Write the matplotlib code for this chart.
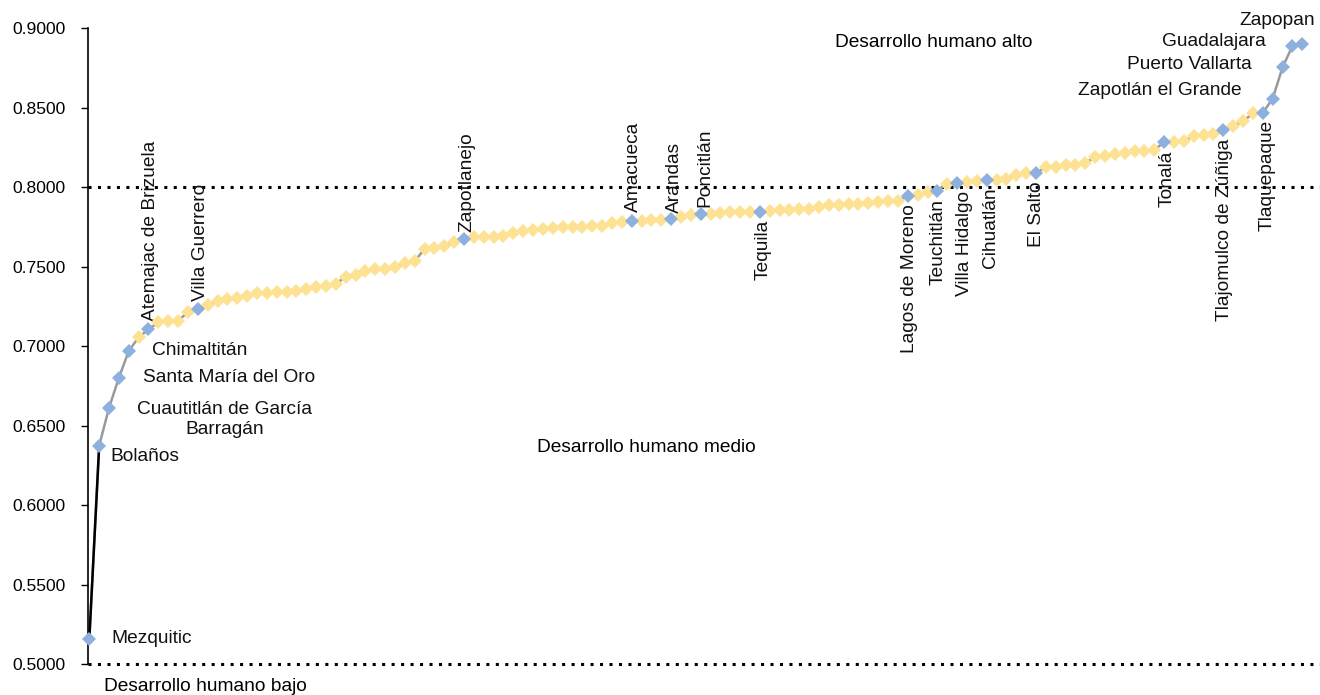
import matplotlib
matplotlib.use("Agg")
import matplotlib.pyplot as plt
import numpy as np

plt.rcParams['font.family'] = ['Liberation Sans', 'DejaVu Sans']

# IDH municipal de Jalisco, ordenado de menor a mayor (124 municipios)
idh = [
    0.5159, 0.6374, 0.6613, 0.6802, 0.6970, 0.7056, 0.7106, 0.7150, 0.7160, 0.7161,
    0.7213, 0.7232, 0.7259, 0.7284, 0.7295, 0.7305, 0.7318, 0.7333, 0.7337, 0.7341,
    0.7342, 0.7346, 0.7358, 0.7371, 0.7379, 0.7393, 0.7437, 0.7448, 0.7475, 0.7484,
    0.7488, 0.7497, 0.7522, 0.7536, 0.7612, 0.7620, 0.7631, 0.7654, 0.7673, 0.7685,
    0.7689, 0.7690, 0.7695, 0.7711, 0.7723, 0.7731, 0.7738, 0.7742, 0.7748, 0.7749,
    0.7752, 0.7755, 0.7756, 0.7777, 0.7784, 0.7790, 0.7791, 0.7792, 0.7794, 0.7802,
    0.7811, 0.7824, 0.7830, 0.7834, 0.7838, 0.7843, 0.7845, 0.7846, 0.7847, 0.7853,
    0.7857, 0.7858, 0.7865, 0.7866, 0.7874, 0.7890, 0.7891, 0.7892, 0.7895, 0.7903,
    0.7909, 0.7916, 0.7917, 0.7945, 0.7953, 0.7970, 0.7979, 0.8021, 0.8030, 0.8035,
    0.8042, 0.8046, 0.8047, 0.8050, 0.8077, 0.8088, 0.8092, 0.8126, 0.8130, 0.8138,
    0.8139, 0.8151, 0.8193, 0.8197, 0.8210, 0.8214, 0.8227, 0.8230, 0.8235, 0.8285,
    0.8286, 0.8291, 0.8323, 0.8327, 0.8335, 0.8361, 0.8386, 0.8415, 0.8466, 0.8469,
    0.8558, 0.8755, 0.8889, 0.8902,
]

# municipios destacados: posicion en el orden -> nombre
destacados = {
    0: "Mezquitic", 1: "Bolaños", 2: "Cuautitlán de García\nBarragán",
    3: "Santa María del Oro", 4: "Chimaltitán", 6: "Atemajac de Brizuela",
    11: "Villa Guerrero", 38: "Zapotlanejo", 55: "Amacueca", 59: "Arandas",
    62: "Poncitlán", 68: "Tequila", 83: "Lagos de Moreno", 86: "Teuchitlán",
    88: "Villa Hidalgo", 91: "Cihuatlán", 96: "El Salto", 109: "Tonalá",
    115: "Tlajomulco de Zúñiga", 119: "Tlaquepaque", 120: "Zapotlán el Grande",
    121: "Puerto Vallarta", 122: "Guadalajara", 123: "Zapopan",
}

umbrales = [0.5, 0.8]
niveles = ["Desarrollo humano bajo", "Desarrollo humano medio", "Desarrollo humano alto"]

x = np.arange(len(idh))
y = np.array(idh)

fig = plt.figure(figsize=(13.2, 6.95), dpi=100)
ax = fig.add_axes([0.0667, 0.0446, 0.9333, 0.9145])

gris = "#9a9a9a"
azul = "#8eb0de"
amarillo = "#fde293"

ax.plot(x, y, color=gris, lw=1.8, zorder=2, clip_on=False)
ax.plot(x[:2], y[:2], color="black", lw=1.8, zorder=3, clip_on=False)

mask = np.array([i in destacados for i in x])
ax.plot(x[~mask], y[~mask], ls="none", marker="D", ms=6.9, mfc=amarillo, mec=amarillo,
        mew=0, zorder=4, clip_on=False)
ax.plot(x[mask], y[mask], ls="none", marker="D", ms=7.4, mfc=azul, mec=azul,
        mew=0, zorder=5, clip_on=False)

for u in umbrales:
    ax.axhline(u, color="black", lw=2.2, ls=(0, (1, 2.1)), zorder=1, clip_on=False)

# posicion de cada etiqueta (offset en puntos, alineacion, rotacion)
estilo = {
    0: (16, 0, "left", "center", 0),
    1: (8, -8, "left", "center", 0),
    2: (83, -8.5, "center", "center", 0),
    3: (17, 0, "left", "center", 0),
    4: (17, 0, "left", "center", 0),
    6: (1.5, 6, "center", "bottom", 90),
    11: (2, 6, "center", "bottom", 90),
    38: (2, 5, "center", "bottom", 90),
    55: (1.5, 6, "center", "bottom", 90),
    59: (2.5, 4, "center", "bottom", 90),
    62: (3, 5, "center", "bottom", 90),
    68: (2, -6, "center", "top", 90),
    83: (1.5, -6, "center", "top", 90),
    86: (0.5, -6, "center", "top", 90),
    88: (5, -6, "center", "top", 90),
    91: (2.5, -5, "center", "top", 90),
    96: (0.5, -6, "center", "top", 90),
    109: (2, -6, "center", "top", 90),
    115: (1, -6, "center", "top", 90),
    119: (3, -5, "center", "top", 90),
    120: (-22, 6, "right", "center", 0),
    121: (-22, 2, "right", "center", 0),
    122: (-19, 3, "right", "center", 0),
    123: (9, 17, "right", "center", 0),
}

for i, nombre in destacados.items():
    dx, dy, ha, va, rot = estilo[i]
    ax.annotate(nombre, xy=(x[i], y[i]), xytext=(dx, dy), textcoords="offset points",
                ha=ha, va=va, rotation=rot, fontsize=13.8, color="#111111",
                multialignment="center", linespacing=1.2, annotation_clip=False)

# niveles de desarrollo
ax.text(0.0955, -0.036, niveles[0], transform=ax.transAxes, ha="center", va="center", fontsize=13.8)
ax.text(0.4535, 0.3412, niveles[1], transform=ax.transAxes, ha="center", va="center", fontsize=13.8)
ax.text(0.6865, 0.9785, niveles[2], transform=ax.transAxes, ha="center", va="center", fontsize=13.8)

ax.set_xlim(-0.13, 124.8)
ax.set_ylim(0.5, 0.9)
ax.set_yticks(np.arange(0.5, 0.9001, 0.05))
ax.set_yticklabels([f"{t:.4f}" for t in np.arange(0.5, 0.9001, 0.05)])
ax.tick_params(axis="y", length=5, width=1, pad=11, labelsize=12.6, colors="black")
ax.set_xticks([])
for s in ["top", "right", "bottom"]:
    ax.spines[s].set_visible(False)
ax.spines["left"].set_linewidth(1.2)

fig.savefig("out.png", dpi=100)
